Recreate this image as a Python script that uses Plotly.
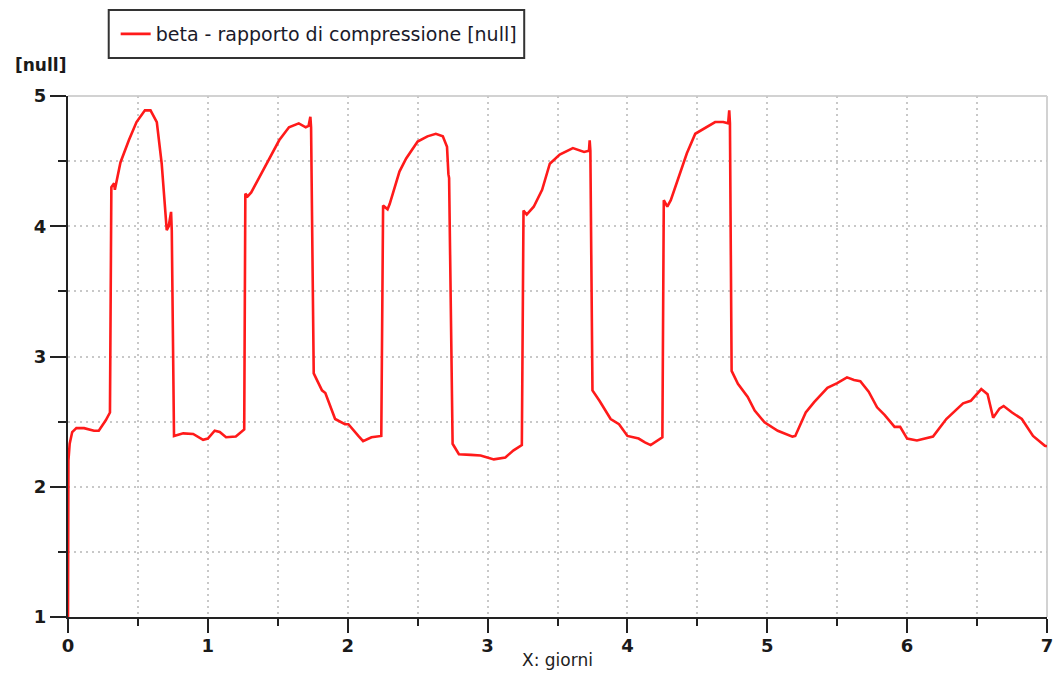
import plotly.graph_objects as go

# Time in days and compression ratio readings
giorni = [
    0.0, 0.003, 0.012, 0.03, 0.06, 0.115, 0.186, 0.22, 0.27, 0.30,
    0.31, 0.33, 0.335, 0.375, 0.435, 0.49, 0.55, 0.59, 0.635, 0.67,
    0.706, 0.72, 0.737, 0.742, 0.758, 0.824, 0.895, 0.966, 1.0, 1.049,
    1.085, 1.13, 1.20, 1.245, 1.26, 1.268, 1.285, 1.31, 1.37, 1.44,
    1.51, 1.58, 1.65, 1.70, 1.72, 1.733, 1.738, 1.757, 1.816, 1.84,
    1.91, 1.98, 2.005, 2.076, 2.11, 2.17, 2.24, 2.253, 2.285, 2.30,
    2.37, 2.418, 2.50, 2.57, 2.63, 2.68, 2.71, 2.72, 2.725, 2.75,
    2.795, 2.88, 2.95, 3.045, 3.127, 3.186, 3.245, 3.257, 3.28, 3.33,
    3.39, 3.445, 3.516, 3.61, 3.69, 3.725, 3.73, 3.735, 3.75, 3.80,
    3.88, 3.94, 4.00, 4.08, 4.125, 4.166, 4.25, 4.26, 4.285, 4.31,
    4.37, 4.425, 4.485, 4.53, 4.627, 4.685, 4.72, 4.728, 4.733, 4.745,
    4.79, 4.86, 4.91, 4.98, 5.075, 5.18, 5.20, 5.275, 5.335, 5.43,
    5.50, 5.57, 5.62, 5.665, 5.725, 5.785, 5.84, 5.91, 5.95, 6.00,
    6.07, 6.185, 6.28, 6.40, 6.455, 6.53, 6.575, 6.615, 6.66, 6.69,
    6.75, 6.82, 6.90, 6.985, 7.0,
]
beta = [
    1.0, 2.2, 2.33, 2.42, 2.45, 2.45, 2.43, 2.43, 2.51, 2.57,
    4.30, 4.33, 4.28, 4.49, 4.66, 4.80, 4.89, 4.89, 4.80, 4.48,
    3.97, 4.00, 4.11, 3.97, 2.39, 2.41, 2.405, 2.36, 2.37, 2.43,
    2.42, 2.38, 2.385, 2.43, 2.44, 4.25, 4.23, 4.26, 4.38, 4.53,
    4.66, 4.76, 4.79, 4.76, 4.77, 4.84, 4.76, 2.87, 2.74, 2.72,
    2.52, 2.48, 2.48, 2.39, 2.35, 2.38, 2.39, 4.16, 4.13, 4.17,
    4.42, 4.52, 4.65, 4.69, 4.71, 4.69, 4.61, 4.40, 4.37, 2.33,
    2.25, 2.245, 2.24, 2.21, 2.225, 2.28, 2.32, 4.12, 4.09, 4.15,
    4.28, 4.48, 4.55, 4.60, 4.57, 4.58, 4.66, 4.58, 2.74, 2.66,
    2.52, 2.48, 2.39, 2.37, 2.34, 2.32, 2.38, 4.20, 4.15, 4.20,
    4.38, 4.56, 4.71, 4.74, 4.80, 4.80, 4.79, 4.89, 4.79, 2.89,
    2.79, 2.69, 2.585, 2.495, 2.43, 2.385, 2.39, 2.57, 2.65, 2.76,
    2.795, 2.84, 2.82, 2.81, 2.73, 2.61, 2.55, 2.46, 2.46, 2.37,
    2.355, 2.385, 2.52, 2.64, 2.66, 2.75, 2.71, 2.53, 2.60, 2.62,
    2.57, 2.52, 2.39, 2.315, 2.31,
]

x_ticks = [0, 1, 2, 3, 4, 5, 6, 7]
y_ticks = [1, 2, 3, 4, 5]

serie_nome = "beta - rapporto di compressione [null]"
unita = "[null]"
asse_x = "X: giorni"

FONT = "DejaVu Sans"
INK = "#1a1a1a"

fig = go.Figure()
fig.add_trace(go.Scatter(
    x=giorni, y=beta, mode="lines", name=serie_nome,
    line=dict(color="#ff1a1a", width=2.6),
    showlegend=True,
))

grid = dict(gridcolor="#c8c8c8", gridwidth=1.5, griddash="2px,4px")

fig.update_xaxes(
    range=[0, 7], tickvals=x_ticks, ticktext=[str(v) for v in x_ticks],
    showline=True, linecolor="#222", linewidth=2,
    ticks="outside", ticklen=14, tickwidth=2, tickcolor="#222",
    ticklabelstandoff=-3,
    tickfont=dict(family=FONT, size=18, color=INK, weight="bold"),
    showgrid=True, **grid,
    minor=dict(dtick=0.5, ticks="outside", ticklen=7, tickwidth=2, tickcolor="#222",
               showgrid=True, **grid),
    zeroline=False,
    title=dict(text=asse_x, font=dict(family=FONT, size=17, color="#222"), standoff=0),
)
fig.update_yaxes(
    range=[1, 5], tickvals=y_ticks, ticktext=[str(v) for v in y_ticks],
    showline=True, linecolor="#222", linewidth=2,
    ticks="outside", ticklen=16, tickwidth=2, tickcolor="#222",
    tickfont=dict(family=FONT, size=18, color=INK, weight="bold"),
    showgrid=True, **grid,
    minor=dict(dtick=0.5, ticks="outside", ticklen=8, tickwidth=2, tickcolor="#222",
               showgrid=True, **grid),
    zeroline=False,
)

# light frame on the top and right edges of the plotting area
fig.add_shape(type="line", xref="paper", yref="paper", x0=0, x1=1, y0=1, y1=1,
              line=dict(color="#d2d2d2", width=2), layer="below")
fig.add_shape(type="line", xref="paper", yref="paper", x0=1, x1=1, y0=0, y1=1,
              line=dict(color="#d2d2d2", width=2), layer="below")

# box around the legend
fig.add_shape(type="rect", xref="paper", yref="paper",
              x0=0.0416, x1=0.466, y0=1.073, y1=1.165,
              line=dict(color="#333", width=2), fillcolor="rgba(0,0,0,0)")

# unit label above the y axis
fig.add_annotation(text=unita, xref="paper", yref="paper", x=-0.056, y=1.0,
                   yshift=31, xanchor="left", yanchor="middle", showarrow=False,
                   font=dict(family=FONT, size=17, color=INK, weight="bold"))

fig.update_layout(
    width=1060, height=693,
    margin=dict(l=68, r=7, t=96, b=76),
    paper_bgcolor="white", plot_bgcolor="white",
    showlegend=True,
    legend=dict(
        x=0.0487, y=1.119, xanchor="left", yanchor="middle",
        bgcolor="rgba(0,0,0,0)", borderwidth=0,
        font=dict(family=FONT, size=19, color="#1a1a2a"),
        itemwidth=30,
    ),
)

fig.write_html("out.html")
